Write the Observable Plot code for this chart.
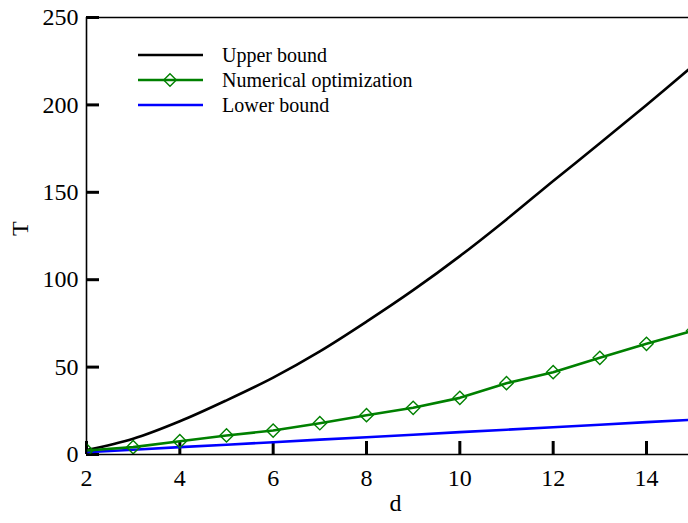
<!DOCTYPE html>
<html>
<head>
<meta charset="utf-8">
<script src="https://cdn.jsdelivr.net/npm/d3@7"></script>
<script src="https://cdn.jsdelivr.net/npm/@observablehq/plot@0.6"></script>
<style>
  html, body { margin: 0; padding: 0; background: #fff; }
  #chart svg { display: block; }
</style>
</head>
<body>
<div id="chart"></div>
<script>
const dValues = [2, 3, 4, 5, 6, 7, 8, 9, 10, 11, 12, 13, 14, 15];
const upperBound = [2.5, 9, 19, 31, 44, 59, 76, 94, 113.5, 134.5, 156.5, 178, 200, 222.5];
const numericalOpt = [2.3, 4.2, 7.6, 10.9, 13.7, 17.9, 22.5, 26.7, 32.4, 40.8, 47.1, 55.3, 63.3, 70.8];
const lowerBound = [1.3, 2.7, 4.2, 5.6, 7.0, 8.5, 9.9, 11.3, 12.8, 14.2, 15.6, 17.0, 18.5, 19.9];
const xTicks = [2, 4, 6, 8, 10, 12, 14];
const yTicks = [0, 50, 100, 150, 200, 250];
const seriesNames = ["Upper bound", "Numerical optimization", "Lower bound"];
const seriesColors = ["#000000", "#008000", "#0000ff"];

const rows = dValues.map((d, i) => ({d, upper: upperBound[i], num: numericalOpt[i], lower: lowerBound[i]}));

const font = "'Liberation Serif', 'Times New Roman', serif";
const W = 688, H = 523, ML = 86, MR = 0, MT = 17, MB = 69;
const xDomain = [2, 14.9], yDomain = [0, 250];
const tickLen = 13;
// inward tick length expressed in data units
const yTickUnits = tickLen * (yDomain[1] - yDomain[0]) / (H - MT - MB);
const xTickUnits = tickLen * (xDomain[1] - xDomain[0]) / (W - ML - MR);

const plot = Plot.plot({
  width: W,
  height: H,
  marginLeft: ML,
  marginRight: MR,
  marginTop: MT,
  marginBottom: MB,
  style: {fontFamily: font, fontSize: "24px", color: "#000", background: "#fff", overflow: "visible"},
  x: {domain: xDomain, label: null},
  y: {domain: yDomain, label: null},
  marks: [
    Plot.ruleX(xTicks, {x: d => d, y1: yDomain[0], y2: yDomain[0] + yTickUnits, stroke: "#000", strokeWidth: 3}),
    Plot.ruleY(yTicks, {y: d => d, x1: xDomain[0], x2: xDomain[0] + xTickUnits, stroke: "#000", strokeWidth: 3}),
    Plot.axisX(xTicks, {tickSize: 0, tickPadding: 14, fontSize: 24, fill: "#000"}),
    Plot.axisY(yTicks, {tickSize: 0, tickPadding: 8, fontSize: 24, fill: "#000"}),
    Plot.line(rows, {x: "d", y: "upper", stroke: seriesColors[0], strokeWidth: 2.6, curve: "catmull-rom", clip: true}),
    Plot.line(rows, {x: "d", y: "lower", stroke: seriesColors[2], strokeWidth: 2.6, clip: true}),
    Plot.line(rows, {x: "d", y: "num", stroke: seriesColors[1], strokeWidth: 2.6, clip: true}),
    Plot.dot(rows, {x: "d", y: "num", symbol: "diamond2", r: 6.0, stroke: seriesColors[1], strokeWidth: 1.4, fill: "none", clip: true}),
    Plot.ruleY([0], {stroke: "#000", strokeWidth: 1.6}),
    Plot.ruleY([250], {stroke: "#000", strokeWidth: 1.6}),
    Plot.ruleX([2], {stroke: "#000", strokeWidth: 1.6}),
    Plot.text(["d"], {frameAnchor: "bottom", dx: 8, dy: 56, fontSize: 24, fill: "#000"}),
    Plot.text(["T"], {frameAnchor: "left", dx: -66, rotate: -90, fontSize: 24, fill: "#000"})
  ]
});

document.getElementById("chart").appendChild(plot);

// Legend inside the plot area
const svg = d3.select(plot);
const legend = svg.append("g").attr("font-family", font).attr("font-size", 20).attr("text-anchor", "start");
seriesNames.forEach((name, i) => {
  const y = 55 + i * 25;
  const g = legend.append("g").attr("transform", `translate(0,${y})`);
  g.append("line").attr("x1", 138).attr("x2", 203).attr("y1", 0).attr("y2", 0)
    .attr("stroke", seriesColors[i]).attr("stroke-width", 2.6);
  if (i === 1) {
    const s = 6.3;
    g.append("path").attr("d", `M170,${-s}L${170 + s},0L170,${s}L${170 - s},0Z`)
      .attr("fill", "none").attr("stroke", seriesColors[i]).attr("stroke-width", 1.4);
  }
  g.append("text").attr("x", 222).attr("y", 0).attr("dy", "0.33em").attr("fill", "#000").text(name);
});
</script>
</body>
</html>
